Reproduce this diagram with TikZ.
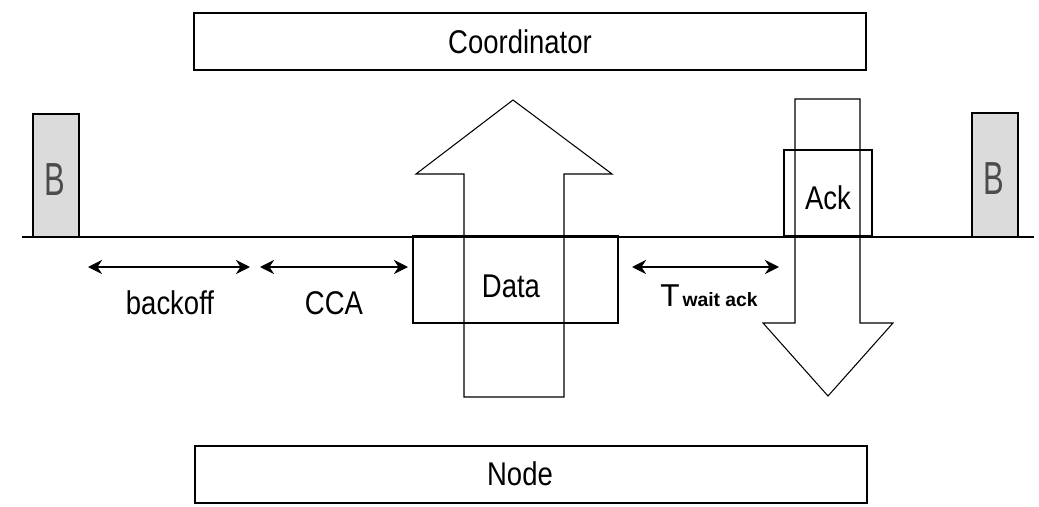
\documentclass[tikz,border=0pt]{standalone}
\usepackage{fontspec}
\setmainfont{Liberation Sans}
\usetikzlibrary{arrows.meta}
\tikzset{
  box/.style={line width=0.8pt},
  beacon/.style={line width=0.9pt, fill=black!14},
  fatarrow/.style={line width=0.6pt},
  span/.style={line width=0.9pt, {Stealth[length=8pt,width=8pt]}-{Stealth[length=8pt,width=8pt]}},
  lbl/.style={font=\fontsize{17}{18}\selectfont, inner sep=0pt, transform shape, xscale=0.92, yscale=1.1},
  blbl/.style={font=\fontsize{22}{24}\selectfont, inner sep=0pt, transform shape, xscale=0.8, yscale=1.2, text=black!70}
}
\begin{document}
\begin{tikzpicture}[x=0.02cm,y=-0.02cm]
			%%%%% START %%%%%
			\useasboundingbox (0,0) rectangle (1039,507);
			
			% coordinator and node bars
			\draw[box] (194, 13) rectangle (866, 70);
			\node[lbl] (coord) at (520, 42) {Coordinator};
			\draw[box] (195, 446) rectangle (867, 503);
			\node[lbl] (nd) at (520, 474) {Node};
			
			% time line
			\draw[line width=0.6pt] (22, 237) -- (1034, 237);
			
			% beacons
			\draw[beacon] (33, 114) rectangle (79, 237);
			\node[blbl] (b1) at (55, 180) {B};
			\draw[beacon] (972, 113) rectangle (1018, 237);
			\node[blbl] (b2) at (994, 179) {B};
			
			% data going up
			\draw[fatarrow] (464, 397) -- (464, 174) -- (416, 174) -- (513, 100)
			  -- (612, 174) -- (564, 174) -- (564, 397) -- cycle;
			\draw[box] (413, 236) rectangle (618, 323);
			\node[lbl] (data) at (511, 286) {Data};
			
			% ack coming down
			\draw[fatarrow] (795, 99) -- (860, 99) -- (860, 323) -- (893, 323)
			  -- (828, 396) -- (763, 323) -- (795, 323) -- cycle;
			\draw[box] (784, 150) rectangle (872, 236);
			\node[lbl] (ack) at (828, 198) {Ack};
			
			% intervals
			\coordinate (bo1) at (88, 267);
			\coordinate (bo2) at (250, 267);
			\coordinate (cca1) at (260, 267);
			\coordinate (cca2) at (408, 267);
			\coordinate (tw1) at (632, 267);
			\coordinate (tw2) at (779, 267);
			\draw[span] (bo1) -- (bo2);
			\draw[span] (cca1) -- (cca2);
			\draw[span] (tw1) -- (tw2);
			\node[lbl] (backoff) at (170, 303) {backoff};
			\node[lbl] (cca) at (334, 303) {CCA};
			\node[inner sep=0pt, anchor=base] (twait) at (709, 306)
			  {{\fontsize{18}{18}\selectfont T}\,{\fontsize{11}{12}\selectfont\bfseries wait ack}};
			
			%%%%% END %%%%%
\end{tikzpicture}
\end{document}
